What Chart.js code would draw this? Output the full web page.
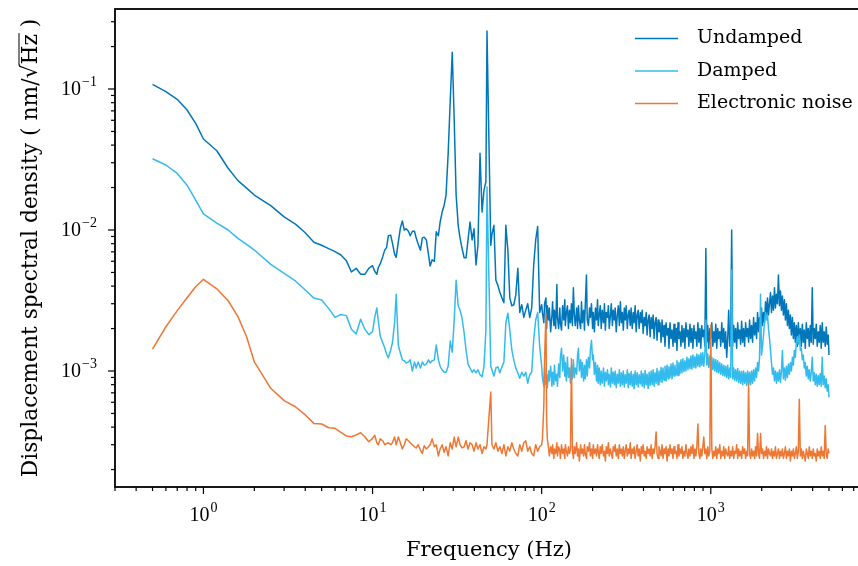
<!DOCTYPE html>
<html>
<head>
<meta charset="utf-8">
<script src="https://cdn.jsdelivr.net/npm/chart.js@4.4.1/dist/chart.umd.min.js"></script>
<style>
  html, body { margin: 0; padding: 0; background: #fff; overflow: hidden; }
  #wrap { width: 858px; height: 566px; overflow: hidden; }
  canvas { display: block; }
</style>
</head>
<body>
<div id="wrap"><canvas id="psd" width="870" height="566"></canvas></div>
<script>
// frequency bins (Hz) shared by all three spectra
const freqHz = [
  0.5, 0.6, 0.7, 0.8, 0.9, 1, 1.2, 1.4, 1.6, 1.8, 2, 2.5, 3, 3.5, 4, 4.5, 5, 5.5, 6, 6.5, 7, 7.5, 8, 8.5, 9, 9.5, 10,
  10.3, 10.6, 10.8, 11.1, 11.5, 11.8, 12.1, 12.4, 12.8, 13.1,
  13.5, 13.8, 14.2, 14.6, 15.0, 15.4, 15.8, 16.3, 16.7, 17.2,
  17.7, 18.1, 18.6, 19.2, 19.7, 20.2, 20.8, 21.4, 21.9, 22.5,
  23.2, 23.8, 24.5, 25.1, 25.8, 26.5, 27.2, 28.0, 28.8, 29.6,
  30.4, 31.2, 32.1, 32.9, 33.8, 34.8, 35.7, 36.7, 37.7, 38.8,
  39.8, 40.9, 42.0, 43.2, 44.4, 45.6, 46.8, 47.5, 50.0,
  50.8, 52.2, 53.6, 55.1, 56.6, 58.2, 59.8, 61.4, 63.1, 64.8,
  66.6, 68.4, 70.3, 72.3, 74.2, 76.3, 78.4, 80.5, 82.7, 85.0,
  87.3, 89.7, 92.2, 94.7, 97.3, 100,
  101, 103, 104, 106, 107, 108, 110, 111, 113, 115,
  116, 118, 119, 121, 123, 124, 126, 128, 129, 131,
  133, 135, 137, 138, 140, 142, 144, 146, 148, 150,
  152, 154, 156, 158, 161, 163, 165, 167, 170, 172,
  174, 177, 179, 181, 184, 186, 189, 192, 194, 197,
  200, 202, 205, 208, 211, 214, 216, 219, 222, 225,
  228, 232, 235, 238, 241, 245, 248, 251, 255, 258,
  262, 265, 269, 272, 276, 280, 284, 288, 292, 296,
  300, 304, 308, 312, 316, 321, 325, 329, 334, 338,
  343, 348, 352, 357, 362, 367, 372, 377, 383, 388,
  393, 398, 404, 409, 415, 420, 426, 432, 438, 444,
  450, 456, 462, 468, 475, 481, 488, 494, 501, 508,
  515, 522, 529, 536, 544, 551, 559, 566, 574, 582,
  590, 598, 606, 614, 623, 631, 640, 648, 657, 666,
  675, 684, 694, 703, 713, 723, 733, 742, 753, 763,
  773, 784, 795, 805, 816, 827, 839, 850, 862, 873,
  885, 897, 909, 922, 935, 947, 960, 973, 987, 1000,
  1014, 1028, 1042, 1056, 1070, 1085, 1099, 1114, 1130, 1145,
  1161, 1177, 1193, 1209, 1225, 1242, 1259, 1276, 1294, 1311,
  1329, 1347, 1366, 1384, 1403, 1422, 1442, 1461, 1481, 1501,
  1522, 1543, 1564, 1585, 1607, 1629, 1651, 1673, 1696, 1719,
  1743, 1766, 1791, 1815, 1840, 1865, 1890, 1916, 1942, 1969,
  1995, 2023, 2050, 2078, 2107, 2135, 2164, 2194, 2224, 2254,
  2285, 2316, 2348, 2380, 2412, 2445, 2478, 2512, 2547, 2582,
  2617, 2652, 2688, 2725, 2762, 2800, 2838, 2876, 2916, 2955,
  2996, 3037, 3078, 3120, 3162, 3205, 3249, 3293, 3338, 3384,
  3430, 3477, 3524, 3572, 3621, 3671, 3721, 3771, 3823, 3875,
  3928, 3981, 4036, 4091, 4147, 4203, 4260, 4318, 4377, 4437,
  4498, 4560, 4621, 4684, 4749, 4814, 4879, 4946, 5000
];

// amplitude spectral densities in pm/sqrt(Hz)
const undamped = [
  108, 95.7, 84.5, 71.0, 57.1, 44.2, 36.5, 27.4, 22.4, 19.8, 17.7, 14.9, 12.4, 11.0, 9.57, 8.18, 7.79, 7.37, 7.02, 6.65, 6.06, 5.04, 5.35, 4.85, 4.85, 5.35, 5.58,
  5.1, 4.85, 5.4, 5.75, 6.5, 7.2, 7.5, 9.1, 9.2, 8.1,
  6.75, 6.4, 8.2, 10.3, 11.6, 10.0, 10.2, 9.8, 9.1, 9.8,
  9.8, 8.8, 7.95, 7.2, 8.8, 8.9, 8.5, 6.75, 5.55, 6.15,
  6.0, 9.7, 9.1, 11.4, 13.4, 15.0, 17.7, 35, 83, 182,
  60, 17.7, 10.8, 8.8, 7.45, 6.35, 6.35, 8.5, 11.4, 8.5,
  10.2, 5.65, 7.8, 35, 13.4, 19.2, 22, 258, 7.8,
  9.3, 10.8, 4.4, 4.05, 3.6, 3.3, 3.05, 10.8, 7.2, 3.3,
  2.9, 2.95, 3.45, 5.35, 2.6, 2.95, 2.4, 2.7, 3.0, 2.4,
  2.8, 5.65, 8.5, 10.6, 2.6, 2.95,
  2.6, 2.2, 3.0, 3.3, 2.0, 2.9, 2.3, 2.8, 1.9, 2.5,
  3.1, 2.1, 2.7, 2.0, 4.1, 2.4, 2.0, 2.8, 2.2, 1.95,
  2.9, 2.3, 3.2, 2.1, 2.6, 2.9, 2.0, 2.7, 2.2, 3.0,
  2.1, 3.9, 2.5, 2.1, 2.8, 2.0, 2.9, 2.3, 2.0, 3.1,
  2.2, 2.7, 1.95, 2.9, 4.8, 2.3, 2.1, 2.8, 2.4, 3.0,
  2.0, 2.6, 1.9, 2.8, 2.3, 3.2, 2.1, 2.5, 2.9, 2.0,
  2.7, 2.2, 3.0, 1.95, 2.6, 2.4, 2.9, 2.0, 2.5, 3.0,
  2.1, 2.7, 2.3, 2.8, 1.9, 2.5, 2.9, 2.1, 3.1, 2.2,
  2.6, 1.95, 2.8, 2.3, 2.9, 2.0, 2.5, 2.7, 2.1, 2.8,
  2.0, 2.6, 2.2, 2.9, 1.9, 2.5, 2.7, 2.0, 2.6, 2.2,
  2.7, 1.85, 2.4, 2.1, 2.6, 1.8, 2.3, 2.5, 1.75, 2.4,
  2.0, 2.5, 1.7, 2.2, 2.4, 1.65, 2.3, 1.9, 2.2, 1.6,
  2.3, 1.75, 2.1, 1.5, 2.2, 1.8, 2.0, 1.45, 2.2, 1.7,
  1.95, 1.5, 2.15, 1.6, 2.0, 1.4, 2.2, 1.7, 1.9, 1.5,
  2.1, 1.6, 2.0, 1.45, 2.2, 1.75, 1.95, 1.5, 2.15, 1.6,
  2.0, 1.45, 2.1, 1.7, 1.9, 1.5, 2.2, 1.6, 2.0, 1.45,
  2.1, 1.75, 1.95, 1.5, 7.4, 1.6, 2.1, 1.45, 2.0, 1.7,
  2.2, 1.5, 1.9, 1.6, 2.15, 1.45, 2.0, 1.7, 1.9, 1.5,
  2.2, 1.6, 2.0, 1.45, 1.9, 1.25, 1.7, 2.7, 1.5, 1.9,
  10.0, 1.5, 2.1, 1.6, 2.0, 1.45, 2.2, 1.7, 1.95, 1.55,
  2.25, 1.6, 2.0, 1.5, 2.2, 1.75, 2.0, 1.6, 2.3, 1.7,
  2.1, 1.6, 2.4, 1.8, 2.2, 1.7, 2.6, 1.9, 2.4, 2.0,
  2.8, 2.1, 2.6, 2.2, 3.1, 2.4, 3.3, 2.5, 3.0, 3.6,
  2.6, 3.4, 2.7, 3.9, 2.8, 3.5, 3.0, 4.8, 2.9, 3.7,
  2.7, 3.4, 2.5, 3.2, 2.3, 3.0, 2.1, 2.7, 2.0, 2.5,
  1.8, 2.4, 1.7, 2.2, 1.6, 2.1, 1.5, 2.2, 1.65, 2.0,
  1.5, 2.15, 1.6, 1.95, 1.45, 2.2, 1.7, 2.0, 1.5, 2.1,
  1.6, 3.9, 1.55, 2.0, 1.7, 2.15, 1.5, 1.9, 1.6, 2.1,
  1.45, 2.2, 1.6, 1.9, 1.5, 2.05, 1.55, 1.8, 1.3
];

const damped = [
  32.0, 28.9, 25.2, 20.8, 16.3, 13.0, 11.2, 10.0, 8.73, 7.91, 7.21, 5.71, 4.93, 4.35, 3.75, 3.29, 3.19, 2.78, 2.40, 2.52, 2.47, 1.98, 1.83, 2.33, 1.98, 1.81, 1.90,
  2.4, 2.8, 2.3, 1.77, 1.58, 1.46, 1.32, 1.24, 1.41, 1.58,
  2.2, 3.5, 1.53, 1.34, 1.2, 1.18, 1.14, 1.16, 1.2, 1.0,
  1.16, 1.05, 1.16, 1.05, 1.16, 1.1, 1.12, 1.2, 1.14, 1.18,
  1.2, 1.53, 1.2, 1.08, 1.02, 0.98, 0.98, 1.08, 1.63, 1.36,
  2.3, 4.4, 2.9, 2.7, 2.38, 1.86, 1.41, 1.12, 1.05, 0.98,
  1.02, 0.97, 1.02, 0.94, 0.91, 1.08, 1.95, 20.2, 1.08,
  1.02, 0.92, 1.05, 1.07, 0.97, 1.07, 1.16, 2.19, 2.57, 1.95,
  1.41, 1.2, 1.05, 0.97, 0.89, 0.98, 0.92, 0.98, 0.82, 0.94,
  0.98, 1.66, 2.3, 2.6, 1.5, 1.08,
  0.9, 0.78, 1.05, 0.8, 0.95, 0.76, 1.0, 0.85, 1.08, 0.78,
  0.98, 0.8, 1.1, 0.85, 0.95, 0.78, 1.12, 0.9, 1.25, 1.45,
  1.0, 1.3, 0.92, 1.15, 0.85, 1.25, 0.9, 1.05, 0.82, 1.1,
  0.88, 1.2, 0.9, 1.05, 0.95, 1.3, 1.45, 1.0, 1.2, 0.9,
  1.15, 0.85, 1.1, 0.88, 1.2, 0.92, 1.25, 1.05, 1.4, 1.65,
  1.2, 1.3, 0.95, 1.15, 0.85, 1.1, 0.82, 1.05, 0.8, 1.0,
  0.82, 1.05, 0.78, 0.98, 0.85, 1.02, 0.8, 0.95, 0.77, 1.05,
  0.82, 0.98, 0.8, 1.0, 0.76, 0.95, 0.82, 1.02, 0.78, 0.97,
  0.8, 1.0, 0.77, 0.94, 0.82, 1.02, 0.76, 0.96, 0.8, 0.99,
  0.78, 0.95, 0.75, 1.0, 0.8, 0.97, 0.77, 0.94, 0.81, 1.0,
  0.78, 0.96, 0.76, 1.01, 0.8, 0.95, 0.75, 0.98, 0.79, 1.0,
  0.8, 1.02, 0.78, 0.97, 0.82, 1.04, 0.8, 1.0, 0.84, 1.06,
  0.83, 1.05, 0.86, 1.08, 0.85, 1.1, 0.88, 1.07, 0.9, 1.12,
  0.88, 1.14, 0.92, 1.1, 0.94, 1.18, 0.93, 1.15, 0.96, 1.2,
  0.97, 1.22, 0.99, 1.18, 1.0, 1.25, 1.02, 1.22, 1.04, 1.28,
  1.03, 1.3, 1.06, 1.26, 1.05, 1.32, 1.08, 1.3, 1.07, 1.34,
  1.1, 1.35, 1.08, 1.3, 2.3, 1.1, 1.32, 1.06, 1.28, 1.05,
  1.25, 1.02, 1.22, 1.0, 1.2, 0.98, 1.18, 0.97, 1.15, 0.95,
  1.12, 0.93, 1.1, 0.92, 1.08, 0.9, 1.1, 0.88, 1.05, 0.9,
  5.2, 0.88, 1.05, 0.86, 1.02, 0.85, 1.04, 0.83, 1.0, 0.82,
  0.99, 0.8, 1.0, 0.82, 0.97, 0.79, 1.0, 0.81, 0.98, 0.8,
  1.0, 0.82, 1.02, 0.85, 1.05, 0.9, 1.15, 1.0, 1.25, 3.5,
  1.3, 1.5, 1.8, 2.2, 2.6, 2.3, 2.5, 2.0, 1.7, 1.4,
  1.15, 0.95, 1.05, 0.85, 1.0, 0.82, 0.98, 0.85, 1.02, 0.83,
  1.0, 1.4, 0.88, 1.05, 0.86, 1.08, 0.9, 1.12, 0.95, 1.15,
  1.0, 1.25, 1.1, 1.4, 1.25, 1.6, 1.75, 1.55, 1.8, 1.4,
  1.45, 1.2, 1.3, 1.05, 1.15, 0.92, 1.08, 0.88, 1.02, 0.85,
  0.98, 1.25, 0.85, 0.97, 0.8, 0.95, 0.78, 0.93, 0.8, 0.96,
  0.78, 1.25, 0.8, 0.92, 0.76, 0.88, 0.72, 0.8, 0.65
];

const electronicNoise = [
  1.43, 2.06, 2.68, 3.31, 3.96, 4.47, 3.83, 3.15, 2.43, 1.75, 1.16, 0.754, 0.616, 0.558, 0.488, 0.425, 0.421, 0.396, 0.392, 0.367, 0.346, 0.342, 0.352, 0.365, 0.342, 0.315, 0.333,
  0.35, 0.31, 0.30, 0.33, 0.32, 0.30, 0.305, 0.31, 0.30, 0.31,
  0.34, 0.30, 0.34, 0.31, 0.28, 0.30, 0.33, 0.32, 0.31, 0.30,
  0.29, 0.285, 0.30, 0.275, 0.26, 0.295, 0.28, 0.29, 0.30, 0.33,
  0.29, 0.30, 0.25, 0.28, 0.30, 0.265, 0.29, 0.25, 0.31, 0.28,
  0.34, 0.29, 0.34, 0.30, 0.285, 0.29, 0.32, 0.28, 0.31, 0.30,
  0.27, 0.31, 0.28, 0.30, 0.26, 0.29, 0.28, 0.30, 0.71,
  0.30, 0.28, 0.31, 0.27, 0.29, 0.26, 0.30, 0.25, 0.29, 0.27,
  0.31, 0.28, 0.26, 0.25, 0.30, 0.27, 0.31, 0.32, 0.27, 0.29,
  0.26, 0.25, 0.30, 0.27, 0.29, 0.30,
  0.33, 0.57, 1.2, 2.55, 0.45, 0.33, 0.28, 0.25, 0.29, 0.26,
  0.3, 0.24, 0.28, 0.26, 0.31, 0.25, 0.29, 0.27, 0.24, 0.3,
  0.26, 0.28, 0.24, 0.3, 0.27, 0.25, 0.29, 0.26, 0.28, 1.22,
  0.27, 0.24, 0.29, 0.26, 0.31, 0.25, 0.28, 0.23, 0.3, 0.26,
  0.28, 0.25, 0.3, 0.26, 0.24, 0.29, 0.27, 0.31, 0.25, 0.28,
  0.24, 0.3, 0.26, 0.28, 0.25, 0.3, 0.27, 0.24, 0.29, 0.26,
  0.3, 0.25, 0.27, 0.23, 0.29, 0.26, 0.31, 0.25, 0.28, 0.26,
  0.24, 0.29, 0.27, 0.3, 0.25, 0.28, 0.24, 0.3, 0.26, 0.28,
  0.25, 0.29, 0.24, 0.27, 0.3, 0.25, 0.28, 0.26, 0.31, 0.24,
  0.28, 0.26, 0.29, 0.24, 0.27, 0.3, 0.25, 0.28, 0.23, 0.29,
  0.26, 0.3, 0.25, 0.27, 0.24, 0.29, 0.26, 0.28, 0.25, 0.3,
  0.24, 0.28, 0.26, 0.29, 0.37, 0.26, 0.24, 0.29, 0.27, 0.25,
  0.3, 0.24, 0.28, 0.26, 0.29, 0.23, 0.28, 0.25, 0.3, 0.26,
  0.28, 0.24, 0.29, 0.26, 0.27, 0.24, 0.3, 0.25, 0.28, 0.26,
  0.29, 0.24, 0.27, 0.25, 0.3, 0.26, 0.24, 0.28, 0.25, 0.29,
  0.26, 0.3, 0.24, 0.28, 0.25, 0.29, 0.42, 0.26, 0.24, 0.28,
  0.25, 0.29, 0.34, 0.26, 0.28, 0.24, 0.29, 0.25, 0.27, 2.12,
  0.28, 0.24, 0.27, 0.25, 0.29, 0.24, 0.28, 0.26, 0.3, 0.24,
  0.27, 0.25, 0.29, 0.24, 0.28, 0.26, 0.25, 0.29, 0.24, 0.27,
  0.25, 0.29, 0.24, 0.27, 0.26, 0.3, 0.24, 0.28, 0.25, 0.27,
  0.24, 0.29, 0.26, 0.28, 0.24, 0.27, 0.25, 0.82, 0.26, 0.24,
  0.28, 0.25, 0.27, 0.24, 0.29, 0.25, 0.36, 0.26, 0.24, 0.36,
  0.26, 0.28, 0.24, 0.27, 0.25, 0.29, 0.24, 0.28, 0.26, 0.25,
  0.28, 0.24, 0.27, 0.25, 0.29, 0.24, 0.26, 0.28, 0.24, 0.27,
  0.25, 0.28, 0.24, 0.26, 0.29, 0.24, 0.27, 0.25, 0.28, 0.23,
  0.27, 0.25, 0.28, 0.24, 0.26, 0.29, 0.24, 0.27, 0.63, 0.25,
  0.28, 0.24, 0.27, 0.25, 0.23, 0.28, 0.26, 0.24, 0.29, 0.25,
  0.27, 0.24, 0.28, 0.25, 0.26, 0.23, 0.28, 0.25, 0.27, 0.24,
  0.29, 0.25, 0.27, 0.24, 0.41, 0.26, 0.24, 0.28, 0.26
];

const seriesNames = ['Undamped', 'Damped', 'Electronic noise'];
const seriesColors = ['#0077BB', '#33BBEE', '#EE7733'];

const xMajorTicks = [1, 10, 100, 1000];
const yMajorTicks = [1e-1, 1e-2, 1e-3];

const xLabel = 'Frequency (Hz)';
const yLabelParts = ['Displacement spectral density ( nm/', 'Hz', ' )'];

const TEXT_FONT = '"DejaVu Serif", serif';
const NUM_FONT = '"Liberation Serif", serif';

// pm -> nm
const toPoints = vals => freqHz.map((f, i) => ({ x: f, y: vals[i] / 1000 }));

function drawPower(ctx, exp, px, py, align) {
  const base = '10';
  const sup = exp < 0 ? '\u2212' + (-exp) : String(exp);
  ctx.font = '20px ' + NUM_FONT;
  const wb = ctx.measureText(base).width;
  ctx.font = '14px ' + NUM_FONT;
  const ws = ctx.measureText(sup).width;
  const total = wb + ws + 1;
  const left = align === 'center' ? px - total / 2 : px - total;
  ctx.textAlign = 'left';
  ctx.textBaseline = 'middle';
  ctx.font = '20px ' + NUM_FONT;
  ctx.fillText(base, left, py);
  ctx.font = '14px ' + NUM_FONT;
  ctx.fillText(sup, left + wb + 1, py - 8);
}

const axesFrame = {
  id: 'axesFrame',
  afterDraw(chart) {
    const { ctx, chartArea: a } = chart;
    const xs = chart.scales.x, ys = chart.scales.y;
    ctx.save();
    ctx.fillStyle = '#000';
    ctx.strokeStyle = '#000';

    // spines
    ctx.lineWidth = 1.8;
    ctx.strokeRect(a.left, a.top, a.right - a.left, a.bottom - a.top);

    // tick marks, pointing outwards
    ctx.lineWidth = 1.2;
    const seg = (x0, y0, x1, y1) => { ctx.beginPath(); ctx.moveTo(x0, y0); ctx.lineTo(x1, y1); ctx.stroke(); };
    for (let d = Math.floor(Math.log10(xs.min)); d <= Math.ceil(Math.log10(xs.max)); d++) {
      for (let k = 1; k <= 9; k++) {
        const v = k * Math.pow(10, d);
        if (v < xs.min || v > xs.max) continue;
        const px = xs.getPixelForValue(v);
        seg(px, a.bottom, px, a.bottom + (k === 1 ? 7 : 4));
      }
    }
    for (let d = Math.floor(Math.log10(ys.min)); d <= Math.ceil(Math.log10(ys.max)); d++) {
      for (let k = 1; k <= 9; k++) {
        const v = k * Math.pow(10, d);
        if (v < ys.min || v > ys.max) continue;
        const py = ys.getPixelForValue(v);
        seg(a.left, py, a.left - (k === 1 ? 7 : 4), py);
      }
    }

    // tick labels
    xMajorTicks.forEach(v => drawPower(ctx, Math.round(Math.log10(v)), xs.getPixelForValue(v), 516, 'center'));
    yMajorTicks.forEach(v => drawPower(ctx, Math.round(Math.log10(v)), a.left - 18, ys.getPixelForValue(v) + 1, 'right'));

    // x axis title
    ctx.font = '21px ' + TEXT_FONT;
    ctx.textAlign = 'center';
    ctx.textBaseline = 'alphabetic';
    ctx.fillText(xLabel, (a.left + a.right) / 2, 556);

    // y axis title with sqrt(Hz)
    ctx.save();
    ctx.translate(37, (a.top + a.bottom) / 2);
    ctx.rotate(-Math.PI / 2);
    ctx.font = '21.8px ' + TEXT_FONT;
    ctx.textAlign = 'left';
    ctx.textBaseline = 'alphabetic';
    const w0 = ctx.measureText(yLabelParts[0]).width;
    const wr = ctx.measureText('\u221A').width;
    const wh = ctx.measureText(yLabelParts[1]).width;
    const w2 = ctx.measureText(yLabelParts[2]).width;
    let cx = -(w0 + wr + wh + w2) / 2;
    ctx.fillText(yLabelParts[0], cx, 0); cx += w0;
    ctx.fillText('\u221A', cx, 0); cx += wr;
    ctx.lineWidth = 1;
    seg(cx - 1, -18, cx + wh + 1, -18);
    ctx.fillText(yLabelParts[1], cx, 0); cx += wh;
    ctx.fillText(yLabelParts[2], cx, 0);
    ctx.restore();

    // legend
    ctx.font = '19px ' + TEXT_FONT;
    ctx.textAlign = 'left';
    ctx.textBaseline = 'middle';
    chart.data.datasets.forEach((ds, i) => {
      const ly = 38.5 + 32.5 * i;
      ctx.strokeStyle = ds.borderColor;
      ctx.lineWidth = 1.5;
      seg(635, ly, 678, ly);
      ctx.fillStyle = '#000';
      ctx.fillText(ds.label, 697, ly);
    });
    ctx.restore();
  }
};

const ctx = document.getElementById('psd').getContext('2d');
new Chart(ctx, {
  type: 'line',
  data: {
    datasets: [undamped, damped, electronicNoise].map((vals, i) => ({
      label: seriesNames[i],
      data: toPoints(vals),
      borderColor: seriesColors[i],
      borderWidth: 1.5,
      borderJoinStyle: 'round',
      pointRadius: 0,
      tension: 0,
      fill: false,
      order: 2 - i
    }))
  },
  options: {
    responsive: false,
    animation: false,
    devicePixelRatio: 1,
    layout: { padding: { top: 9, right: 7, left: 0, bottom: 0 } },
    plugins: { legend: { display: false }, tooltip: { enabled: false } },
    scales: {
      x: {
        type: 'logarithmic',
        min: Math.pow(10, -0.5),
        max: Math.pow(10, 3.9),
        grid: { display: false },
        border: { display: false },
        ticks: { display: false },
        afterFit: s => { s.height = 79; }
      },
      y: {
        type: 'logarithmic',
        min: Math.pow(10, -3.8227),
        max: Math.pow(10, -0.4326),
        grid: { display: false },
        border: { display: false },
        ticks: { display: false },
        afterFit: s => { s.width = 115; }
      }
    }
  },
  plugins: [axesFrame]
});
</script>
</body>
</html>
